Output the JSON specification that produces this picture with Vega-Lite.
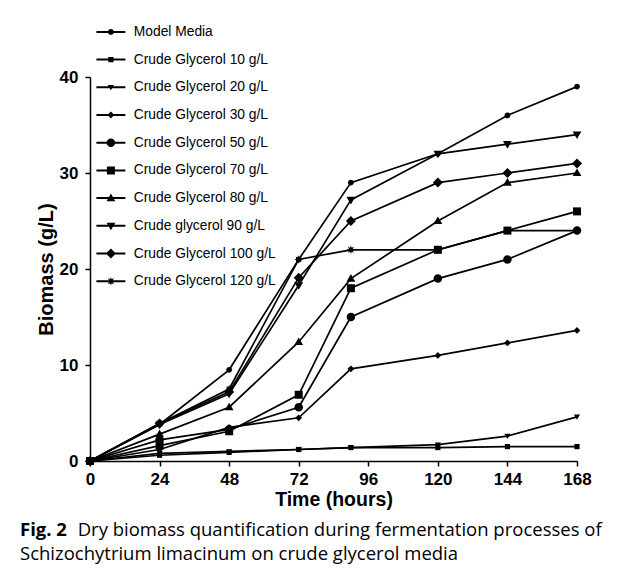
{
  "$schema": "https://vega.github.io/schema/vega-lite/v6.json",
  "width": 487,
  "height": 384,
  "autosize": {"type": "none"},
  "padding": {"left": 90, "top": 77, "right": 48, "bottom": 117},
  "background": "white",
  "config": {"view": {"stroke": null}, "font": "Liberation Sans"},
  "data": {
    "values": [
      {"s": "Model Media", "t": 0, "b": 0}, {"s": "Model Media", "t": 24, "b": 3.8}, {"s": "Model Media", "t": 48, "b": 9.5}, {"s": "Model Media", "t": 72, "b": 21}, {"s": "Model Media", "t": 90, "b": 29}, {"s": "Model Media", "t": 120, "b": 32}, {"s": "Model Media", "t": 144, "b": 36}, {"s": "Model Media", "t": 168, "b": 39},
      {"s": "Crude Glycerol 10 g/L", "t": 0, "b": 0}, {"s": "Crude Glycerol 10 g/L", "t": 24, "b": 0.6}, {"s": "Crude Glycerol 10 g/L", "t": 48, "b": 0.9}, {"s": "Crude Glycerol 10 g/L", "t": 72, "b": 1.2}, {"s": "Crude Glycerol 10 g/L", "t": 90, "b": 1.4}, {"s": "Crude Glycerol 10 g/L", "t": 120, "b": 1.4}, {"s": "Crude Glycerol 10 g/L", "t": 144, "b": 1.5}, {"s": "Crude Glycerol 10 g/L", "t": 168, "b": 1.5},
      {"s": "Crude Glycerol 20 g/L", "t": 0, "b": 0}, {"s": "Crude Glycerol 20 g/L", "t": 24, "b": 0.8}, {"s": "Crude Glycerol 20 g/L", "t": 48, "b": 1.0}, {"s": "Crude Glycerol 20 g/L", "t": 72, "b": 1.2}, {"s": "Crude Glycerol 20 g/L", "t": 90, "b": 1.4}, {"s": "Crude Glycerol 20 g/L", "t": 120, "b": 1.7}, {"s": "Crude Glycerol 20 g/L", "t": 144, "b": 2.6}, {"s": "Crude Glycerol 20 g/L", "t": 168, "b": 4.6},
      {"s": "Crude Glycerol 30 g/L", "t": 0, "b": 0}, {"s": "Crude Glycerol 30 g/L", "t": 24, "b": 1.2}, {"s": "Crude Glycerol 30 g/L", "t": 48, "b": 3.5}, {"s": "Crude Glycerol 30 g/L", "t": 72, "b": 4.5}, {"s": "Crude Glycerol 30 g/L", "t": 90, "b": 9.6}, {"s": "Crude Glycerol 30 g/L", "t": 120, "b": 11}, {"s": "Crude Glycerol 30 g/L", "t": 144, "b": 12.3}, {"s": "Crude Glycerol 30 g/L", "t": 168, "b": 13.6},
      {"s": "Crude Glycerol 50 g/L", "t": 0, "b": 0}, {"s": "Crude Glycerol 50 g/L", "t": 24, "b": 2.2}, {"s": "Crude Glycerol 50 g/L", "t": 48, "b": 3.3}, {"s": "Crude Glycerol 50 g/L", "t": 72, "b": 5.6}, {"s": "Crude Glycerol 50 g/L", "t": 90, "b": 15}, {"s": "Crude Glycerol 50 g/L", "t": 120, "b": 19}, {"s": "Crude Glycerol 50 g/L", "t": 144, "b": 21}, {"s": "Crude Glycerol 50 g/L", "t": 168, "b": 24},
      {"s": "Crude Glycerol 70 g/L", "t": 0, "b": 0}, {"s": "Crude Glycerol 70 g/L", "t": 24, "b": 1.6}, {"s": "Crude Glycerol 70 g/L", "t": 48, "b": 3.1}, {"s": "Crude Glycerol 70 g/L", "t": 72, "b": 6.9}, {"s": "Crude Glycerol 70 g/L", "t": 90, "b": 18}, {"s": "Crude Glycerol 70 g/L", "t": 120, "b": 22}, {"s": "Crude Glycerol 70 g/L", "t": 144, "b": 24}, {"s": "Crude Glycerol 70 g/L", "t": 168, "b": 26},
      {"s": "Crude  Glycerol 80 g/L", "t": 0, "b": 0}, {"s": "Crude  Glycerol 80 g/L", "t": 24, "b": 2.8}, {"s": "Crude  Glycerol 80 g/L", "t": 48, "b": 5.6}, {"s": "Crude  Glycerol 80 g/L", "t": 72, "b": 12.4}, {"s": "Crude  Glycerol 80 g/L", "t": 90, "b": 19}, {"s": "Crude  Glycerol 80 g/L", "t": 120, "b": 25}, {"s": "Crude  Glycerol 80 g/L", "t": 144, "b": 29}, {"s": "Crude  Glycerol 80 g/L", "t": 168, "b": 30},
      {"s": "Crude glycerol 90 g/L", "t": 0, "b": 0}, {"s": "Crude glycerol 90 g/L", "t": 24, "b": 3.8}, {"s": "Crude glycerol 90 g/L", "t": 48, "b": 7.0}, {"s": "Crude glycerol 90 g/L", "t": 72, "b": 18.3}, {"s": "Crude glycerol 90 g/L", "t": 90, "b": 27.2}, {"s": "Crude glycerol 90 g/L", "t": 120, "b": 32}, {"s": "Crude glycerol 90 g/L", "t": 144, "b": 33}, {"s": "Crude glycerol 90 g/L", "t": 168, "b": 34},
      {"s": "Crude Glycerol 100 g/L", "t": 0, "b": 0}, {"s": "Crude Glycerol 100 g/L", "t": 24, "b": 3.9}, {"s": "Crude Glycerol 100 g/L", "t": 48, "b": 7.2}, {"s": "Crude Glycerol 100 g/L", "t": 72, "b": 19.1}, {"s": "Crude Glycerol 100 g/L", "t": 90, "b": 25}, {"s": "Crude Glycerol 100 g/L", "t": 120, "b": 29}, {"s": "Crude Glycerol 100 g/L", "t": 144, "b": 30}, {"s": "Crude Glycerol 100 g/L", "t": 168, "b": 31},
      {"s": "Crude Glycerol 120 g/L", "t": 0, "b": 0}, {"s": "Crude Glycerol 120 g/L", "t": 24, "b": 3.9}, {"s": "Crude Glycerol 120 g/L", "t": 48, "b": 7.5}, {"s": "Crude Glycerol 120 g/L", "t": 72, "b": 21}, {"s": "Crude Glycerol 120 g/L", "t": 90, "b": 22}, {"s": "Crude Glycerol 120 g/L", "t": 120, "b": 22}, {"s": "Crude Glycerol 120 g/L", "t": 144, "b": 24}, {"s": "Crude Glycerol 120 g/L", "t": 168, "b": 24}
    ]
  },
  "encoding": {
    "x": {
      "field": "t", "type": "quantitative",
      "scale": {"domain": [0, 168], "nice": false, "zero": true},
      "axis": {
        "values": [0, 24, 48, 72, 96, 120, 144, 168],
        "title": "Time (hours)", "grid": false,
        "domainColor": "black", "domainWidth": 1.5,
        "tickColor": "black", "tickWidth": 1.5, "tickSize": 5,
        "labelFont": "Liberation Sans", "labelFontWeight": "bold", "labelFontSize": 17, "labelColor": "black", "labelPadding": 5, "labelFlush": false,
        "titleFont": "Liberation Sans", "titleFontSize": 19.5, "titleFontWeight": "bold", "titleColor": "black", "titlePadding": 3
      }
    },
    "y": {
      "field": "b", "type": "quantitative",
      "scale": {"domain": [0, 40], "nice": false},
      "axis": {
        "values": [0, 10, 20, 30, 40],
        "title": "Biomass (g/L)", "grid": false,
        "domainColor": "black", "domainWidth": 1.5,
        "tickColor": "black", "tickWidth": 1.5, "tickSize": 5,
        "labelFont": "Liberation Sans", "labelFontWeight": "bold", "labelFontSize": 17, "labelColor": "black", "labelPadding": 7,
        "titleFont": "Liberation Sans", "titleFontSize": 20, "titleFontWeight": "bold", "titleColor": "black", "titlePadding": 3
      }
    }
  },
  "resolve": {"scale": {"shape": "independent"}, "legend": {"shape": "independent"}},
  "layer": [
    {
      "mark": {"type": "line", "color": "black", "strokeWidth": 1.7},
      "encoding": {"detail": {"field": "s", "type": "nominal"}}
    },
    {
      "mark": {"type": "point", "filled": true, "color": "black", "size": 100, "opacity": 1},
      "encoding": {
        "shape": {
          "field": "s", "type": "nominal", "legend": null,
          "scale": {
            "domain": ["Model Media", "Crude Glycerol 10 g/L", "Crude Glycerol 20 g/L", "Crude Glycerol 30 g/L", "Crude Glycerol 50 g/L", "Crude Glycerol 70 g/L", "Crude  Glycerol 80 g/L", "Crude glycerol 90 g/L", "Crude Glycerol 100 g/L", "Crude Glycerol 120 g/L"],
            "range": [
              "M0.58,0A0.58,0.58 0 1,1 -0.58,0A0.58,0.58 0 1,1 0.58,0Z",
              "M-0.52,-0.52H0.52V0.52H-0.52Z",
              "M-0.62,-0.45H0.62L0,0.6Z",
              "M0,-0.68L0.68,0L0,0.68L-0.68,0Z",
              "M0.85,0A0.85,0.85 0 1,1 -0.85,0A0.85,0.85 0 1,1 0.85,0Z",
              "M-0.8,-0.8H0.8V0.8H-0.8Z",
              "M0,-0.9L0.88,0.62H-0.88Z",
              "M-0.88,-0.62H0.88L0,0.9Z",
              "M0,-1L1,0L0,1L-1,0Z",
              "M0.85,0L0.388,0.161L0.601,0.601L0.161,0.388L0,0.85L-0.161,0.388L-0.601,0.601L-0.388,0.161L-0.85,0L-0.388,-0.161L-0.601,-0.601L-0.161,-0.388L0,-0.85L0.161,-0.388L0.601,-0.601L0.388,-0.161Z"
            ]
          }
        }
      }
    },
    {
      "mark": {"type": "point", "filled": true, "color": "black", "size": 100, "opacity": 0},
      "encoding": {
        "shape": {
          "field": "s", "type": "nominal",
          "scale": {
            "domain": ["Model Media", "Crude Glycerol 10 g/L", "Crude Glycerol 20 g/L", "Crude Glycerol 30 g/L", "Crude Glycerol 50 g/L", "Crude Glycerol 70 g/L", "Crude  Glycerol 80 g/L", "Crude glycerol 90 g/L", "Crude Glycerol 100 g/L", "Crude Glycerol 120 g/L"],
            "range": [
              "M-2.9,-0.2H2.9V0.2H-2.9ZM0.58,0A0.58,0.58 0 1,1 -0.58,0A0.58,0.58 0 1,1 0.58,0Z",
              "M-2.9,-0.2H2.9V0.2H-2.9ZM-0.52,-0.52H0.52V0.52H-0.52Z",
              "M-2.9,-0.2H2.9V0.2H-2.9ZM-0.62,-0.45H0.62L0,0.6Z",
              "M-2.9,-0.2H2.9V0.2H-2.9ZM0,-0.68L0.68,0L0,0.68L-0.68,0Z",
              "M-2.9,-0.2H2.9V0.2H-2.9ZM0.85,0A0.85,0.85 0 1,1 -0.85,0A0.85,0.85 0 1,1 0.85,0Z",
              "M-2.9,-0.2H2.9V0.2H-2.9ZM-0.8,-0.8H0.8V0.8H-0.8Z",
              "M-2.9,-0.2H2.9V0.2H-2.9ZM0,-0.9L0.88,0.62H-0.88Z",
              "M-2.9,-0.2H2.9V0.2H-2.9ZM-0.88,-0.62H0.88L0,0.9Z",
              "M-2.9,-0.2H2.9V0.2H-2.9ZM0,-1L1,0L0,1L-1,0Z",
              "M-2.9,-0.2H2.9V0.2H-2.9ZM0.85,0L0.388,0.161L0.601,0.601L0.161,0.388L0,0.85L-0.161,0.388L-0.601,0.601L-0.388,0.161L-0.85,0L-0.388,-0.161L-0.601,-0.601L-0.161,-0.388L0,-0.85L0.161,-0.388L0.601,-0.601L0.388,-0.161Z"
            ]
          },
          "legend": {
            "title": null,
            "orient": "none",
            "legendX": 14,
            "legendY": -52,
            "padding": 0,
            "symbolSize": 100,
            "symbolOpacity": 1,
            "symbolFillColor": "black",
            "symbolStrokeWidth": 0,
            "rowPadding": 12.7,
            "labelFont": "Liberation Sans",
            "labelFontSize": 13.8,
            "labelColor": "black",
            "labelOffset": 16,
            "labelLimit": 300
          }
        }
      }
    }
  ],
  "title": {
    "text": "Fig. 2",
    "orient": "bottom",
    "anchor": "start",
    "frame": "group",
    "dx": -70,
    "offset": 12,
    "font": "Open Sans",
    "fontSize": 18.5,
    "fontWeight": "bold",
    "color": "black",
    "subtitle": ["\u200b\u00a0\u00a0\u00a0\u00a0\u00a0\u00a0\u00a0\u00a0\u00a0\u00a0\u00a0\u00a0Dry biomass quantification during fermentation processes of", "Schizochytrium limacinum on crude glycerol media"],
    "subtitleFont": "Open Sans",
    "subtitleFontSize": 18.5,
    "subtitleColor": "black",
    "subtitlePadding": -18.5,
    "subtitleLineHeight": 24
  }
}
